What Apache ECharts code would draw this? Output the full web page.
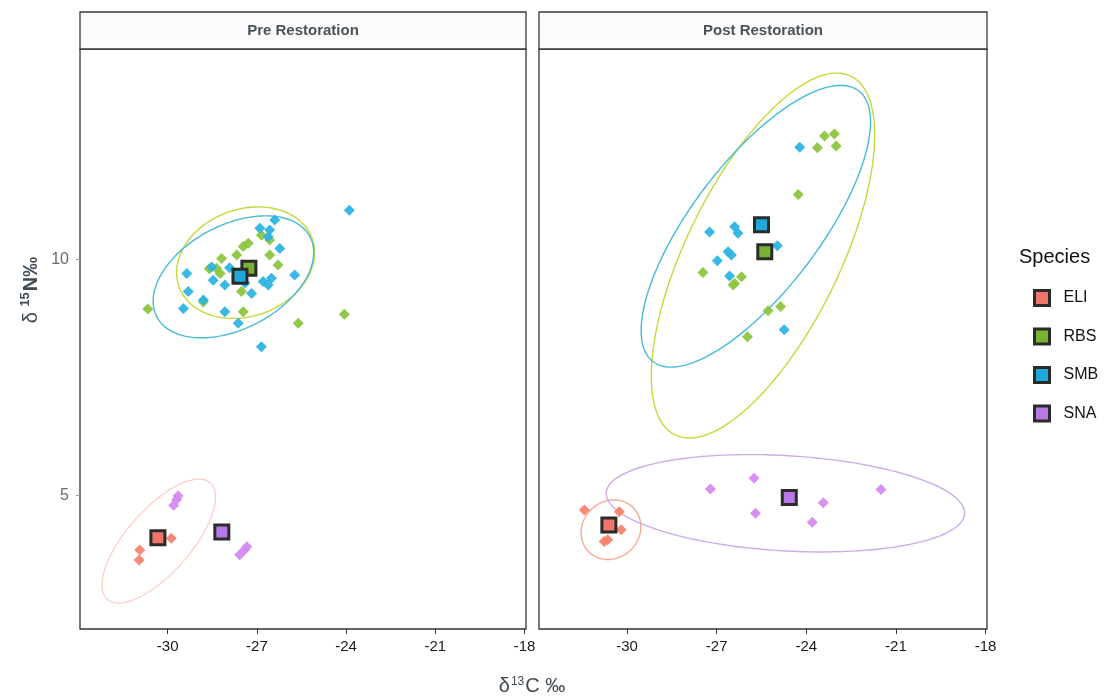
<!DOCTYPE html>
<html>
<head>
<meta charset="utf-8">
<script src="https://cdn.jsdelivr.net/npm/echarts@6/dist/echarts.min.js"></script>
<style>
  html, body { margin: 0; padding: 0; background: #ffffff; }
  #chart { width: 1117px; height: 700px; }
</style>
</head>
<body>
<div id="chart"></div>
<script>
// Stable-isotope biplot (δ13C vs δ15N) by species, before and after restoration.
const species = ['ELI', 'RBS', 'SMB', 'SNA'];
const panelTitles = ['Pre Restoration', 'Post Restoration'];
const xTicks = [-30, -27, -24, -21, -18];
const yTicks = [5, 10];

// Individual samples [δ13C, δ15N]
const preELI = [[-29.88, 4.10], [-30.94, 3.85], [-30.96, 3.64], [-30.40, 4.15]];
const preRBS = [[-27.46, 10.27], [-27.68, 10.09], [-27.29, 10.34], [-28.19, 10.02], [-28.36, 9.81],
  [-28.24, 9.70], [-28.60, 9.80], [-26.85, 10.51], [-26.57, 10.41], [-26.57, 10.09], [-26.29, 9.88],
  [-27.52, 9.32], [-27.46, 8.89], [-28.80, 9.10], [-25.61, 8.65], [-24.06, 8.84], [-30.67, 8.95]];
const preSMB = [[-26.40, 10.83], [-26.90, 10.66], [-26.57, 10.62], [-26.62, 10.48], [-26.23, 10.23],
  [-29.36, 9.70], [-28.52, 9.84], [-27.92, 9.82], [-28.47, 9.56], [-28.08, 9.46], [-27.18, 9.28],
  [-26.79, 9.53], [-26.62, 9.46], [-26.51, 9.60], [-25.73, 9.67], [-29.31, 9.32], [-28.80, 9.14],
  [-29.47, 8.96], [-28.08, 8.89], [-27.63, 8.65], [-26.85, 8.15], [-23.89, 11.04], [-27.40, 9.50]];
const preSNA = [[-27.42, 3.85], [-27.34, 3.92], [-27.58, 3.75], [-29.65, 5.00], [-29.70, 4.92], [-29.80, 4.80]];

const postELI = [[-31.43, 4.70], [-30.26, 4.66], [-30.20, 4.28], [-30.65, 4.07], [-30.77, 4.03]];
const postRBS = [[-24.27, 11.37], [-27.46, 9.72], [-26.17, 9.63], [-26.40, 9.49], [-26.45, 9.46],
  [-25.28, 8.91], [-24.86, 9.00], [-25.97, 8.36], [-23.63, 12.36], [-23.39, 12.61], [-23.06, 12.65], [-23.00, 12.40]];
const postSMB = [[-24.22, 12.37], [-27.24, 10.58], [-26.40, 10.69], [-26.29, 10.55], [-26.62, 10.16],
  [-26.51, 10.09], [-26.98, 9.97], [-26.57, 9.65], [-24.97, 10.29], [-24.74, 8.51]];
const postSNA = [[-27.21, 5.14], [-25.75, 5.37], [-25.70, 4.63], [-23.43, 4.85], [-23.80, 4.44], [-21.50, 5.13]];

// Group means [δ13C, δ15N]
const preMeans = { ELI: [-30.33, 4.11], RBS: [-27.27, 9.81], SMB: [-27.57, 9.64], SNA: [-28.18, 4.23] };
const postMeans = { ELI: [-30.61, 4.38], RBS: [-25.39, 10.16], SMB: [-25.50, 10.73], SNA: [-24.57, 4.96] };

// Ellipses [centre δ13C, centre δ15N, half-width δ13C, half-height δ15N, correlation]
const preEllipses = {
  ELI: [-30.30, 4.04, 1.91, 1.31, 0.71],
  RBS: [-27.38, 9.93, 2.32, 1.18, 0.18],
  SMB: [-27.79, 9.63, 2.70, 1.29, 0.40]
};
const postEllipses = {
  ELI: [-30.54, 4.28, 1.00, 0.63, 0.10],
  RBS: [-25.45, 10.08, 3.74, 3.86, 0.66],
  SMB: [-25.69, 10.70, 3.84, 2.98, 0.74],
  SNA: [-24.70, 4.84, 6.00, 1.03, -0.20]
};

const pointColors = { ELI: '#F8836F', RBS: '#8DC63F', SMB: '#2EB4E3', SNA: '#D68AF0' };
const ellipseColors = { ELI: '#F6A592', RBS: '#C2D630', SMB: '#3BB7D4', SNA: '#C9A6E6' };
const keyColors = { ELI: '#F2756A', RBS: '#78B232', SMB: '#1FA9DA', SNA: '#B879E6' };

const panelPoints = [
  { ELI: preELI, RBS: preRBS, SMB: preSMB, SNA: preSNA },
  { ELI: postELI, RBS: postRBS, SMB: postSMB, SNA: postSNA }
];
const panelMeans = [preMeans, postMeans];
const panelEllipses = [preEllipses, postEllipses];

const FONT = '"Liberation Sans", Arial, sans-serif';
const gridBoxes = [
  { left: 80, top: 49, width: 446, height: 580 },
  { left: 539, top: 49, width: 448, height: 580 }
];

function ellipseRenderer(color, width, opacity) {
  return function (params, api) {
    const cx = api.value(0), cy = api.value(1), sx = api.value(2), sy = api.value(3), r = api.value(4);
    const k = Math.sqrt(1 - r * r);
    const pts = [];
    for (let i = 0; i <= 180; i++) {
      const t = (i / 180) * Math.PI * 2;
      pts.push(api.coord([cx + sx * Math.cos(t), cy + sy * (r * Math.cos(t) + k * Math.sin(t))]));
    }
    return {
      type: 'polyline',
      shape: { points: pts },
      style: { stroke: color, fill: 'none', lineWidth: width, opacity: opacity }
    };
  };
}

const series = [];
panelTitles.forEach((_, p) => {
  // ellipses underneath
  species.forEach(sp => {
    const e = panelEllipses[p][sp];
    if (!e) return;
    const faint = (p === 0 && sp === 'ELI');
    series.push({
      name: sp, type: 'custom', xAxisIndex: p, yAxisIndex: p,
      data: [e], dimensions: ['x', 'y', 'sx', 'sy', 'r'], encode: { x: 0, y: 1 },
      renderItem: ellipseRenderer(ellipseColors[sp], faint ? 1.1 : 1.4, faint ? 0.6 : 0.95),
      silent: true, z: 1
    });
  });
  // samples
  species.forEach(sp => {
    series.push({
      name: sp, type: 'scatter', xAxisIndex: p, yAxisIndex: p,
      data: panelPoints[p][sp], symbol: 'diamond', symbolSize: 11,
      itemStyle: { color: pointColors[sp], opacity: 0.95 }, silent: true, z: 2
    });
  });
  // means
  species.forEach(sp => {
    series.push({
      name: sp, type: 'scatter', xAxisIndex: p, yAxisIndex: p,
      data: [panelMeans[p][sp]], symbol: 'rect', symbolSize: 14,
      itemStyle: { color: keyColors[sp], borderColor: '#2b2b2b', borderWidth: 3, opacity: 1 },
      silent: true, z: 3
    });
  });
});

const xAxes = gridBoxes.map((_, i) => ({
  type: 'value', gridIndex: i, min: -32.95, max: -17.95,
  axisLine: { show: false },
  axisTick: { show: true, customValues: xTicks, length: 5, lineStyle: { color: '#333', width: 1 } },
  axisLabel: { customValues: xTicks, color: '#1a1a1a', fontSize: 15, fontFamily: FONT, margin: 10 },
  splitLine: { show: false }
}));
const yAxes = gridBoxes.map((_, i) => ({
  type: 'value', gridIndex: i, min: 2.18, max: 14.45,
  axisLine: { show: false },
  axisTick: { show: i === 0, customValues: yTicks, length: 4, lineStyle: { color: '#999', width: 1 } },
  axisLabel: { show: i === 0, customValues: yTicks, color: '#6b6b6b', fontSize: 16, fontFamily: FONT, margin: 11 },
  splitLine: { show: false }
}));

const graphics = [];
gridBoxes.forEach((g, i) => {
  graphics.push({
    type: 'rect', shape: { x: g.left, y: 12, width: g.width, height: 37 },
    style: { fill: '#fbfbfb', stroke: '#3a3a3a', lineWidth: 1.3 }, z: 10
  });
  graphics.push({
    type: 'text', x: g.left + g.width / 2, y: 31,
    style: { text: panelTitles[i], align: 'center', verticalAlign: 'middle',
      font: 'bold 15px ' + FONT, fill: '#4a5358' }, z: 11
  });
});
graphics.push({
  type: 'text', x: 532, y: 686,
  style: {
    text: '{a|δ}{s|13}{a|C ‰}', align: 'center', verticalAlign: 'middle',
    rich: {
      a: { fontSize: 20, fontFamily: FONT, fill: '#3f4a52', verticalAlign: 'bottom' },
      s: { fontSize: 12, fontFamily: FONT, fill: '#3f4a52', verticalAlign: 'bottom', padding: [0, 1, 9, 1] }
    }
  }
});
graphics.push({
  type: 'text', x: 30, y: 290, rotation: Math.PI / 2,
  style: {
    text: '{a|δ }{s|15}{b|N‰}', align: 'center', verticalAlign: 'middle',
    rich: {
      a: { fontSize: 20, fontFamily: FONT, fill: '#3f4a52', verticalAlign: 'bottom' },
      s: { fontSize: 13, fontFamily: FONT, fontWeight: 'bold', fill: '#3f4a52', verticalAlign: 'bottom', padding: [0, 1, 9, 0] },
      b: { fontSize: 20, fontFamily: FONT, fontWeight: 'bold', fill: '#3f4a52', verticalAlign: 'bottom' }
    }
  }
});
graphics.push({
  type: 'text', x: 1019, y: 257,
  style: { text: 'Species', align: 'left', verticalAlign: 'middle', font: '20px ' + FONT, fill: '#111' }
});

const chart = echarts.init(document.getElementById('chart'), null, { renderer: 'canvas' });
chart.setOption({
  animation: false,
  backgroundColor: '#ffffff',
  grid: gridBoxes.map(g => ({
    left: g.left, top: g.top, width: g.width, height: g.height,
    show: true, borderColor: '#333', borderWidth: 1.3, backgroundColor: '#fff'
  })),
  xAxis: xAxes,
  yAxis: yAxes,
  legend: {
    orient: 'vertical', left: 1028, top: 284,
    itemWidth: 15, itemHeight: 15, itemGap: 20.5,
    selectedMode: false,
    textStyle: { fontSize: 16, fontFamily: FONT, color: '#111', padding: [0, 0, 0, 9] },
    data: species.map(sp => ({
      name: sp, icon: 'rect',
      itemStyle: { color: keyColors[sp], borderColor: '#2b2b2b', borderWidth: 3, opacity: 1 }
    }))
  },
  graphic: graphics,
  series: series
});
</script>
</body>
</html>
